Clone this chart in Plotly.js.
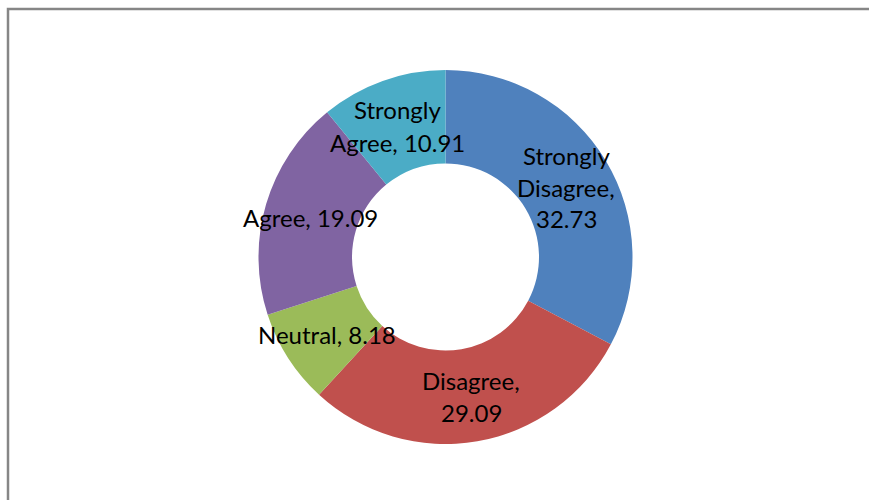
<!DOCTYPE html>
<html>
<head>
<meta charset="utf-8">
<script src="https://cdn.plot.ly/plotly-3.0.1.min.js"></script>
<style>
html,body{margin:0;padding:0;background:#fff;}
#chart{width:869px;height:500px;}
</style>
</head>
<body>
<div id="chart"></div>
<script>
// ---- data ----
const categories = ["Strongly Disagree", "Disagree", "Neutral", "Agree", "Strongly Agree"];
const values = [32.73, 29.09, 8.18, 19.09, 10.91];
const colors = ["#4F81BD", "#C0504D", "#9BBB59", "#8064A2", "#4BACC6"];

// ---- label layout (words per line, label centre in px) ----
const wordsPerLine = [[1, 1, 1], [1, 1], [2], [2], [1, 2]];
const labelCenters = [[566, 187], [471, 396], [327, 334], [310, 218], [397, 126]];
const lineGap = 32;

const W = 869, H = 500;
const annotations = [];
categories.forEach((cat, i) => {
  const words = (cat + ", " + values[i].toFixed(2)).split(" ");
  const lines = [];
  let k = 0;
  wordsPerLine[i].forEach(n => { lines.push(words.slice(k, k + n).join(" ")); k += n; });
  const [cx, cy] = labelCenters[i];
  const y0 = cy - (lines.length - 1) * lineGap / 2;
  lines.forEach((ln, j) => {
    annotations.push({
      text: ln, xref: "paper", yref: "paper",
      x: cx / W, y: 1 - (y0 + j * lineGap) / H,
      xanchor: "center", yanchor: "middle", showarrow: false,
      font: {family: "Lato, 'Noto Sans', sans-serif", size: 24, color: "#000"}
    });
  });
});

const trace = {
  type: "pie",
  labels: categories,
  values: values,
  hole: 0.5,
  sort: false,
  direction: "clockwise",
  rotation: 0,
  textinfo: "none",
  hoverinfo: "label+value",
  marker: {colors: colors, line: {width: 0}},
  domain: {x: [258.5 / W, 632.5 / W], y: [1 - 444 / H, 1 - 70 / H]},
  showlegend: false
};

const layout = {
  width: W, height: H,
  margin: {l: 0, r: 0, t: 0, b: 0},
  paper_bgcolor: "#fff",
  showlegend: false,
  annotations: annotations,
  shapes: [{
    type: "rect", xref: "paper", yref: "paper",
    x0: 8 / W, x1: 1.05, y0: -0.05, y1: 1 - 9 / H,
    line: {color: "#868686", width: 2.5}, fillcolor: "rgba(0,0,0,0)", layer: "below"
  }]
};

Plotly.newPlot("chart", [trace], layout, {displayModeBar: false, staticPlot: true});
</script>
</body>
</html>
